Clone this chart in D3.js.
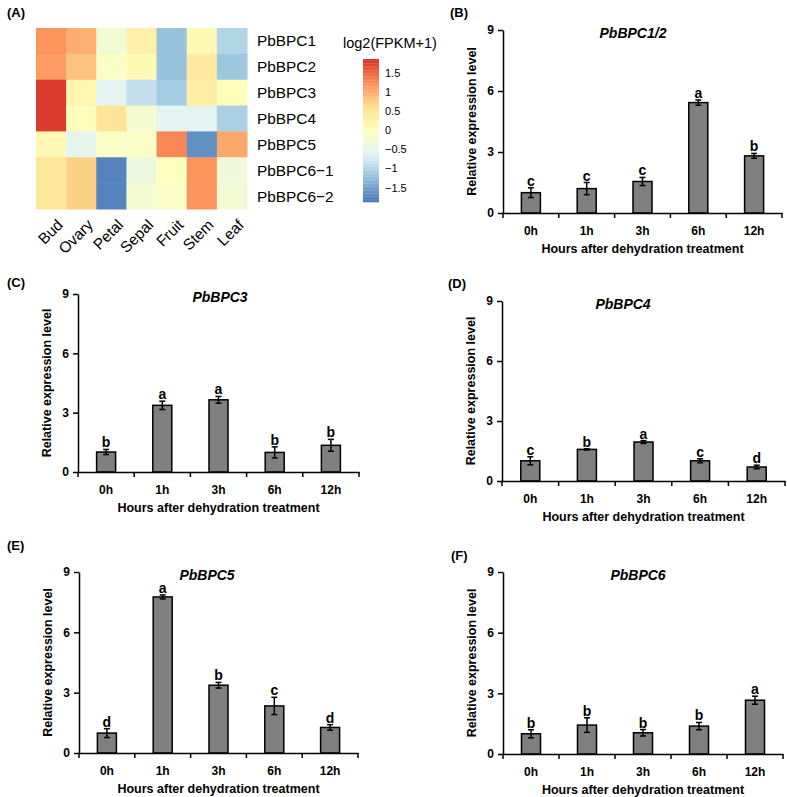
<!DOCTYPE html>
<html>
<head>
<meta charset="utf-8">
<script src="https://cdn.jsdelivr.net/npm/d3@7"></script>
<style>
  body { margin: 0; background: #fff; }
  svg { display: block; font-family: "Liberation Sans", Arial, sans-serif; }
</style>
</head>
<body>
<svg id="fig" width="787" height="797"></svg>
<script>
// heatmap data: log2(FPKM+1), row-scaled
const genes = ['PbBPC1', 'PbBPC2', 'PbBPC3', 'PbBPC4', 'PbBPC5', 'PbBPC6\u22121', 'PbBPC6\u22122'];
const tissues = ['Bud', 'Ovary', 'Petal', 'Sepal', 'Fruit', 'Stem', 'Leaf'];
const heatValues = [
  [1.2, 1.0, -0.25, 0.3, -1.2, 0.12, -1.0],
  [1.15, 0.85, -0.1, 0.12, -1.2, 0.4, -1.15],
  [1.8, 0.2, -0.55, -0.85, -1.1, 0.35, 0.05],
  [1.8, 0.05, 0.55, -0.2, -0.55, -0.55, -1.05],
  [0.15, -0.5, -0.1, -0.1, 1.3, -1.65, 1.05],
  [0.5, 0.75, -1.75, -0.35, 0.0, 1.2, -0.3],
  [0.5, 0.75, -1.75, -0.2, -0.1, 1.2, -0.25]
];
const legendTicks = [1.5, 1, 0.5, 0, -0.5, -1, -1.5];
const palette = ['#4575B4', '#91BFDB', '#E0F3F8', '#FFFFBF', '#FEE090', '#FC8D59', '#D73027'];

// qPCR data
const times = ['0h', '1h', '3h', '6h', '12h'];
const yTicks = [0, 3, 6, 9];

const bpc12Mean = [1.0, 1.2, 1.55, 5.43, 2.81];
const bpc12Err = [0.24, 0.3, 0.2, 0.13, 0.12];
const bpc12Sig = ['c', 'c', 'c', 'a', 'b'];

const bpc3Mean = [1.01, 3.37, 3.65, 0.99, 1.35];
const bpc3Err = [0.13, 0.21, 0.17, 0.28, 0.3];
const bpc3Sig = ['b', 'a', 'a', 'b', 'b'];

const bpc4Mean = [1.01, 1.58, 1.95, 1.01, 0.7];
const bpc4Err = [0.2, 0.03, 0.07, 0.1, 0.09];
const bpc4Sig = ['c', 'b', 'a', 'c', 'd'];

const bpc5Mean = [0.99, 7.76, 3.37, 2.34, 1.27];
const bpc5Err = [0.22, 0.1, 0.14, 0.43, 0.14];
const bpc5Sig = ['d', 'a', 'b', 'c', 'd'];

const bpc6Mean = [1.0, 1.43, 1.05, 1.38, 2.66];
const bpc6Err = [0.2, 0.36, 0.16, 0.18, 0.2];
const bpc6Sig = ['b', 'b', 'b', 'b', 'a'];

const svg = d3.select('#fig');

// ---------- (A) heatmap ----------
function drawHeatmap() {
  const left = 36, right = 247, top = 28, bottom = 209;
  const lim = 1.88;

  const x = d3.scaleBand().domain(tissues).range([left, right]);
  const y = d3.scaleBand().domain(genes).range([top, bottom]);
  const color = d3.scaleLinear()
    .domain(d3.range(palette.length).map(i => -lim + i * 2 * lim / (palette.length - 1)))
    .range(palette)
    .interpolate(d3.interpolateRgb);

  const cells = [];
  genes.forEach((g, i) => tissues.forEach((t, j) => cells.push({ g: g, t: t, v: heatValues[i][j] })));

  svg.append('g').selectAll('rect')
    .data(cells)
    .enter()
    .append('rect')
    .attr('x', d => x(d.t))
    .attr('y', d => y(d.g))
    .attr('width', x.bandwidth() + 0.5)
    .attr('height', y.bandwidth() + 0.5)
    .attr('fill', d => color(d.v));

  // row labels
  svg.append('g').selectAll('text')
    .data(genes)
    .enter()
    .append('text')
    .attr('x', right + 10)
    .attr('y', d => y(d) + y.bandwidth() / 2)
    .attr('dy', '0.36em')
    .style('font-size', '15.4px')
    .text(d => d);

  // column labels, rotated
  svg.append('g').selectAll('text')
    .data(tissues)
    .enter()
    .append('text')
    .attr('transform', d => 'translate(' + (x(d) + x.bandwidth() / 2 + 5) + ',' + (bottom + 9) + ') rotate(-45)')
    .attr('dy', '0.72em')
    .style('text-anchor', 'end')
    .style('font-size', '15.4px')
    .text(d => d);

  // colour legend
  const legY = d3.scaleLinear().domain([-lim, lim]).range([202, 59]);
  const steps = d3.range(100).map(i => -lim + (i + 0.5) * 2 * lim / 100);
  const stepH = (legY(-lim) - legY(lim)) / 100;
  svg.append('g').selectAll('rect')
    .data(steps)
    .enter()
    .append('rect')
    .attr('x', 363)
    .attr('y', d => legY(d) - stepH / 2)
    .attr('width', 16)
    .attr('height', stepH + 0.3)
    .attr('fill', d => color(d));

  svg.append('g').selectAll('text')
    .data(legendTicks)
    .enter()
    .append('text')
    .attr('x', 385)
    .attr('y', d => legY(d))
    .attr('dy', '0.36em')
    .style('font-size', '11px')
    .text(d => d < 0 ? '\u2212' + Math.abs(d) : String(d));

  svg.append('text')
    .attr('x', 343)
    .attr('y', 48)
    .style('font-size', '14.5px')
    .text('log2(FPKM+1)');
}

// ---------- (B)-(F) bar charts ----------
function drawBars(p) {
  const g = svg.append('g');

  const x = d3.scaleBand().domain(times).range([p.x0, p.x1]);
  const y = d3.scaleLinear().domain([0, 9]).range([p.yBot, p.yTop]);
  const barW = 19;

  const rows = times.map((t, i) => ({ t: t, m: p.mean[i], e: p.err[i], s: p.sig[i] }));

  // bars
  g.selectAll('rect.bar')
    .data(rows)
    .enter()
    .append('rect')
    .attr('class', 'bar')
    .attr('x', d => x(d.t) + x.bandwidth() / 2 - barW / 2)
    .attr('y', d => y(d.m))
    .attr('width', barW)
    .attr('height', d => y(0) - y(d.m))
    .attr('fill', '#808080')
    .attr('stroke', '#000')
    .attr('stroke-width', 1.5);

  // error bars
  const eb = g.selectAll('g.err')
    .data(rows)
    .enter()
    .append('g')
    .attr('class', 'err')
    .attr('stroke', '#000')
    .attr('stroke-width', 1.5);
  eb.append('line')
    .attr('x1', d => x(d.t) + x.bandwidth() / 2)
    .attr('x2', d => x(d.t) + x.bandwidth() / 2)
    .attr('y1', d => y(d.m - d.e))
    .attr('y2', d => y(d.m + d.e));
  eb.append('line')
    .attr('x1', d => x(d.t) + x.bandwidth() / 2 - 3)
    .attr('x2', d => x(d.t) + x.bandwidth() / 2 + 3)
    .attr('y1', d => y(d.m + d.e))
    .attr('y2', d => y(d.m + d.e));
  eb.append('line')
    .attr('x1', d => x(d.t) + x.bandwidth() / 2 - 3)
    .attr('x2', d => x(d.t) + x.bandwidth() / 2 + 3)
    .attr('y1', d => y(d.m - d.e))
    .attr('y2', d => y(d.m - d.e));

  // significance letters
  g.selectAll('text.sig')
    .data(rows)
    .enter()
    .append('text')
    .attr('class', 'sig')
    .attr('x', d => x(d.t) + x.bandwidth() / 2)
    .attr('y', d => y(d.m + d.e) - 2)
    .style('text-anchor', 'middle')
    .style('font-size', '14px')
    .style('font-weight', 'bold')
    .text(d => d.s);

  // y axis
  const yAxis = d3.axisLeft(y).tickValues(yTicks).tickSize(5).tickSizeOuter(0).tickPadding(4);
  const ya = g.append('g')
    .attr('transform', 'translate(' + p.x0 + ',0)')
    .call(yAxis);
  ya.selectAll('text').style('font-size', '12px').style('font-weight', 'bold').attr('fill', '#000');
  ya.selectAll('line, path').attr('stroke', '#000').attr('stroke-width', 1.5);

  // x axis: labels at band centres, ticks at band edges
  const xAxis = d3.axisBottom(x).tickSize(0).tickPadding(0);
  const xa = g.append('g')
    .attr('transform', 'translate(0,' + p.yBot + ')')
    .call(xAxis);
  xa.select('.domain').attr('stroke', '#000').attr('stroke-width', 1.5);
  xa.selectAll('text')
    .attr('y', 22).attr('dy', null)
    .style('font-size', '12px').style('font-weight', 'bold').attr('fill', '#000');

  const edges = times.map(t => x(t)).concat([x.range()[1]]);
  xa.selectAll('line.edge')
    .data(edges)
    .enter()
    .append('line')
    .attr('class', 'edge')
    .attr('x1', d => d).attr('x2', d => d)
    .attr('y1', 0).attr('y2', 5)
    .attr('stroke', '#000')
    .attr('stroke-width', 1.5);

  // titles
  g.append('text')
    .attr('x', p.titleX)
    .attr('y', p.yTop + 8)
    .style('text-anchor', 'middle')
    .style('font-size', '14px')
    .style('font-weight', 'bold')
    .style('font-style', 'italic')
    .text(p.title);

  g.append('text')
    .attr('x', (p.x0 + p.x1) / 2)
    .attr('y', p.yBot + 40)
    .style('text-anchor', 'middle')
    .style('font-size', '12.5px')
    .style('font-weight', 'bold')
    .text('Hours after dehydration treatment');

  g.append('text')
    .attr('transform', 'translate(' + (p.x0 - 27) + ',' + ((p.yTop + p.yBot) / 2) + ') rotate(-90)')
    .style('text-anchor', 'middle')
    .style('font-size', '12.5px')
    .style('font-weight', 'bold')
    .text('Relative expression level');
}

function panelLabel(txt, x, y) {
  svg.append('text')
    .attr('x', x)
    .attr('y', y)
    .style('font-size', '13px')
    .style('font-weight', 'bold')
    .text(txt);
}

drawHeatmap();

drawBars({ title: 'PbBPC1/2', mean: bpc12Mean, err: bpc12Err, sig: bpc12Sig,
  x0: 503, x1: 782, yTop: 30, yBot: 213, titleX: 633 });
drawBars({ title: 'PbBPC3', mean: bpc3Mean, err: bpc3Err, sig: bpc3Sig,
  x0: 78, x1: 359, yTop: 294, yBot: 472, titleX: 220 });
drawBars({ title: 'PbBPC4', mean: bpc4Mean, err: bpc4Err, sig: bpc4Sig,
  x0: 502, x1: 785, yTop: 301, yBot: 481, titleX: 623 });
drawBars({ title: 'PbBPC5', mean: bpc5Mean, err: bpc5Err, sig: bpc5Sig,
  x0: 79, x1: 358, yTop: 572, yBot: 753, titleX: 207 });
drawBars({ title: 'PbBPC6', mean: bpc6Mean, err: bpc6Err, sig: bpc6Sig,
  x0: 503, x1: 783, yTop: 572, yBot: 754, titleX: 638 });

panelLabel('(A)', 7, 17);
panelLabel('(B)', 450, 17);
panelLabel('(C)', 7, 287);
panelLabel('(D)', 448, 288);
panelLabel('(E)', 7, 550);
panelLabel('(F)', 451, 560);
</script>
</body>
</html>
